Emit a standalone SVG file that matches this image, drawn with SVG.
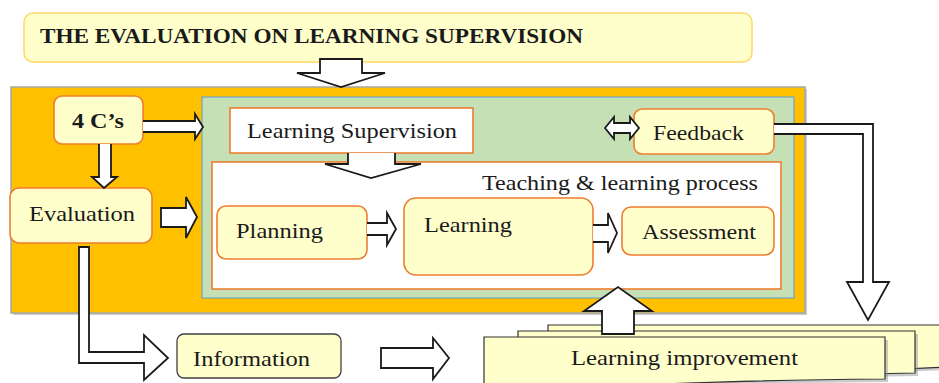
<svg xmlns="http://www.w3.org/2000/svg" width="939" height="383" viewBox="0 0 939 383">
<style>
.t{font-family:"Liberation Serif","DejaVu Serif",serif;font-size:21px;fill:#1a1a1a}
.b{font-weight:bold}
.yb{fill:#FFFFCC;stroke:#ED7D31;stroke-width:1.6}
.arr{fill:#fff;stroke:#1a1a1a;stroke-width:1.8;stroke-linejoin:miter}
.paper{fill:#FFFFCC;stroke:#333;stroke-width:1.2}
.sh{fill:#8c8c8c;opacity:0.45}
</style>
<rect width="939" height="383" fill="#fff"/>

<g id="title">
<rect x="24" y="13" width="728" height="49" rx="9" fill="#FFFFCC" stroke="#FFD966" stroke-width="1.5"/>
<text class="t b" x="40" y="43" textLength="543" lengthAdjust="spacingAndGlyphs">THE EVALUATION ON LEARNING SUPERVISION</text>
</g>

<g id="context">
<rect x="13" y="89" width="794" height="226" class="sh"/>
<rect x="11" y="87" width="794" height="226" fill="#FFC000" stroke="#A6A6A6" stroke-width="1.5"/>
</g>

<g id="supervision-area">
<rect x="202" y="97" width="592" height="201" fill="#C5E0B4" stroke="#5B9BD5" stroke-width="1"/>
</g>

<g id="four-cs">
<rect x="54" y="96" width="89" height="48" rx="8" class="yb"/>
<text class="t b" x="72" y="128" textLength="52" lengthAdjust="spacingAndGlyphs">4 C’s</text>
</g>

<g id="learning-supervision">
<rect x="230" y="108" width="243" height="45" fill="#fff" stroke="#ED7D31" stroke-width="1.6"/>
<text class="t" x="247" y="138" textLength="210" lengthAdjust="spacingAndGlyphs">Learning Supervision</text>
</g>

<g id="feedback">
<rect x="634" y="109" width="140" height="45" rx="8" class="yb"/>
<text class="t" x="653" y="140" textLength="91" lengthAdjust="spacingAndGlyphs">Feedback</text>
</g>

<g id="teaching-learning-process">
<rect x="212" y="162" width="569" height="127" fill="#fff" stroke="#ED7D31" stroke-width="1.6"/>
<text class="t" x="482" y="190" textLength="276" lengthAdjust="spacingAndGlyphs">Teaching &amp; learning process</text>
</g>

<g id="evaluation">
<rect x="10" y="188" width="142" height="55" rx="9" class="yb"/>
<text class="t" x="29" y="221" textLength="106" lengthAdjust="spacingAndGlyphs">Evaluation</text>
</g>

<g id="planning">
<rect x="217" y="206" width="150" height="53" rx="9" class="yb"/>
<text class="t" x="236" y="238" textLength="87" lengthAdjust="spacingAndGlyphs">Planning</text>
</g>

<g id="learning">
<rect x="404" y="198" width="189" height="77" rx="12" class="yb"/>
<text class="t" x="424" y="232" textLength="88" lengthAdjust="spacingAndGlyphs">Learning</text>
</g>

<g id="assessment">
<rect x="622" y="207" width="152" height="48" rx="9" class="yb"/>
<text class="t" x="642" y="239" textLength="114" lengthAdjust="spacingAndGlyphs">Assessment</text>
</g>

<g id="information">
<rect x="177" y="334" width="164" height="44" rx="7" fill="#FFFFCC" stroke="#404040" stroke-width="1.3"/>
<text class="t" x="193" y="366" textLength="117" lengthAdjust="spacingAndGlyphs">Information</text>
</g>

<g id="learning-improvement">
<path d="M551,328 L945,328 L945,370 L551,388 Z" class="sh"/>
<path d="M548,325 L945,325 L945,367 L548,386 Z" class="paper"/>
<path d="M521,334 L918,334 L918,376 C800,378 650,382 521,392 Z" class="sh"/>
<path d="M518,331 L915,331 L915,373 C800,375 650,379 518,389 Z" class="paper"/>
<path d="M487,340 L888,340 L888,382 C760,383 620,386 487,398 Z" class="sh"/>
<path d="M484,337 L885,337 L885,379 C760,380 620,383 484,395 Z" class="paper"/>
<text class="t" x="571" y="365" textLength="227" lengthAdjust="spacingAndGlyphs">Learning improvement</text>
</g>

<g id="connectors">
<path class="arr" d="M320,59 L362,59 L362,73 L385,73 L341,87 L297,73 L320,73 Z"/>
<path class="arr" d="M143,121 L195,121 L195,114 L203,127 L195,139 L195,132 L143,132"/>
<path class="arr" d="M99,144 L99,177 L92,177 L104,188 L117,177 L111,177 L111,144"/>
<path class="arr" d="M348,153 L348,164 L325,164 L371,178 L421,164 L395,164 L395,153"/>
<path class="arr" d="M605,128 L614,117 L614,123 L630,123 L630,117 L639,128 L630,139 L630,133 L614,133 L614,139 Z"/>
<path class="arr" d="M774,124 L873,124 L873,282 L889,282 L868,320 L847,282 L863,282 L863,134 L774,134"/>
<path class="arr" d="M161,208 L186,208 L186,197 L197,217 L186,238 L186,227 L161,227 Z"/>
<path class="arr" d="M367,223 L387,223 L387,213 L396,229 L387,245 L387,235 L367,235"/>
<path class="arr" d="M593,225 L608,225 L608,213 L617,233 L608,253 L608,242 L593,242"/>
<path class="arr" d="M602,334 L602,311 L584,311 L618,287 L652,311 L634,311 L634,334 Z"/>
<path class="arr" d="M79,247 L89,247 L89,352 L144,352 L144,335 L168,358 L144,380 L144,363 L79,363 Z"/>
<path class="arr" d="M381,348 L433,348 L433,338 L449,358 L433,379 L433,368 L381,368 Z"/>
</g>
</svg>
